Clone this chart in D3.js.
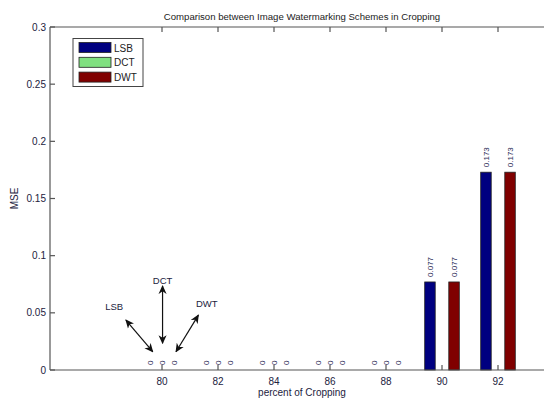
<!DOCTYPE html>
<html>
<head>
<meta charset="utf-8">
<script src="https://d3js.org/d3.v7.min.js"></script>
<style>
  body { margin: 0; background: #fff; }
  svg { display: block; font-family: "Liberation Sans", Arial, sans-serif; }
</style>
</head>
<body>
<svg id="chart"></svg>
<script>
// データ
const crops = [80, 82, 84, 86, 88, 90, 92];
const schemes = ["LSB", "DCT", "DWT"];
const lsb = [0, 0, 0, 0, 0, 0.077, 0.173];
const dct = [0, 0, 0, 0, 0, null, null];
const dwt = [0, 0, 0, 0, 0, 0.077, 0.173];
const yTicks = [0, 0.05, 0.1, 0.15, 0.2, 0.25, 0.3];
const colors = ["#000080", "#80e080", "#800000"];

// 矢印の注釈（データ座標）
const notes = [
  { label: "LSB", tx: 78.29, ty: 0.0554, x1: 78.71, y1: 0.0437, x2: 79.67, y2: 0.016 },
  { label: "DCT", tx: 80.02, ty: 0.0787, x1: 80.02, y1: 0.0735, x2: 80.02, y2: 0.0234 },
  { label: "DWT", tx: 81.6, ty: 0.0583, x1: 81.3, y1: 0.048, x2: 80.5, y2: 0.016 }
];

(function() {
  const width = 544;
  const height = 399;
  const left = 50, right = 554, top = 27, bottom = 370;

  const svg = d3.select("#chart")
      .attr("width", width)
      .attr("height", height);

  const x = d3.scaleLinear().domain([76, 94]).range([left, right]);
  const y = d3.scaleLinear().domain([0, 0.3]).range([bottom, top]);

  const series = [lsb, dct, dwt];
  const offset = [-0.43, 0, 0.43];
  const barW = 0.375;

  // 棒
  series.forEach(function(vals, s) {
    const g = svg.append("g");
    vals.forEach(function(v, i) {
      if (v === null) return;
      const cx = crops[i] + offset[s];
      if (v > 0) {
        g.append("rect")
          .attr("x", x(cx - barW / 2))
          .attr("y", y(v))
          .attr("width", x(cx + barW / 2) - x(cx - barW / 2))
          .attr("height", y(0) - y(v))
          .attr("fill", colors[s])
          .attr("stroke", "#222")
          .attr("stroke-width", 0.8);
      }
      // 値ラベル（回転）
      const px = x(cx) + 3;
      const py = y(v) - 5;
      g.append("text")
        .attr("transform", "translate(" + px + "," + py + ") rotate(-90)")
        .attr("font-size", 8)
        .attr("fill", "#2a2a55")
        .text(v === 0 ? "0" : String(v));
    });
  });

  // 軸
  const axisColor = "#555";
  const frame = svg.append("g").attr("stroke", axisColor).attr("stroke-width", 1.2).attr("fill", "none");
  frame.append("line").attr("x1", left).attr("x2", right).attr("y1", bottom).attr("y2", bottom);
  frame.append("line").attr("x1", left).attr("x2", right).attr("y1", top).attr("y2", top);
  frame.append("line").attr("x1", left).attr("x2", left).attr("y1", top).attr("y2", bottom);

  crops.forEach(function(c) {
    frame.append("line").attr("x1", x(c)).attr("x2", x(c)).attr("y1", bottom).attr("y2", bottom - 5);
    frame.append("line").attr("x1", x(c)).attr("x2", x(c)).attr("y1", top).attr("y2", top + 5);
  });
  yTicks.forEach(function(t) {
    frame.append("line").attr("x1", left).attr("x2", left + 5).attr("y1", y(t)).attr("y2", y(t));
  });

  svg.append("g").selectAll("text")
    .data(crops).enter().append("text")
    .attr("x", function(d) { return x(d); })
    .attr("y", bottom + 15)
    .attr("text-anchor", "middle")
    .attr("font-size", 10)
    .attr("fill", "#222240")
    .text(function(d) { return d; });

  svg.append("g").selectAll("text")
    .data(yTicks).enter().append("text")
    .attr("x", left - 4)
    .attr("y", function(d) { return y(d) + 3.5; })
    .attr("text-anchor", "end")
    .attr("font-size", 10)
    .attr("fill", "#222240")
    .text(function(d) { return d; });

  // タイトル・軸ラベル
  svg.append("text")
    .attr("x", (left + right) / 2).attr("y", 20)
    .attr("text-anchor", "middle").attr("font-size", 9.6).attr("fill", "#222")
    .text("Comparison between Image Watermarking Schemes in Cropping");
  svg.append("text")
    .attr("x", (left + right) / 2).attr("y", 396)
    .attr("text-anchor", "middle").attr("font-size", 10).attr("fill", "#222240")
    .text("percent of Cropping");
  svg.append("text")
    .attr("transform", "translate(18," + (top + bottom) / 2 + ") rotate(-90)")
    .attr("text-anchor", "middle").attr("font-size", 10).attr("fill", "#222240")
    .text("MSE");

  // 凡例
  const lg = svg.append("g");
  lg.append("rect").attr("x", 73).attr("y", 38.5).attr("width", 70).attr("height", 48)
    .attr("fill", "#fff").attr("stroke", "#444").attr("stroke-width", 1);
  schemes.forEach(function(name, i) {
    lg.append("rect").attr("x", 79).attr("y", 42.5 + i * 14.8).attr("width", 32).attr("height", 10)
      .attr("fill", colors[i]).attr("stroke", "#222").attr("stroke-width", 0.8);
    lg.append("text").attr("x", 114).attr("y", 51.5 + i * 14.8)
      .attr("font-size", 10).attr("fill", "#222").text(name);
  });

  // 矢印
  const defs = svg.append("defs");
  defs.append("marker").attr("id", "ah").attr("viewBox", "0 0 10 10")
    .attr("refX", 9).attr("refY", 5).attr("markerWidth", 9).attr("markerHeight", 9)
    .attr("markerUnits", "userSpaceOnUse").attr("orient", "auto-start-reverse")
    .append("path").attr("d", "M0,0.5 L10,5 L0,9.5 L3,5 Z").attr("fill", "#111");

  notes.forEach(function(n) {
    svg.append("line")
      .attr("x1", x(n.x1)).attr("y1", y(n.y1))
      .attr("x2", x(n.x2)).attr("y2", y(n.y2))
      .attr("stroke", "#111").attr("stroke-width", 1.2)
      .attr("marker-start", "url(#ah)").attr("marker-end", "url(#ah)");
    svg.append("text")
      .attr("x", x(n.tx)).attr("y", y(n.ty) + 3.5)
      .attr("text-anchor", "middle").attr("font-size", 9.5).attr("fill", "#222240")
      .text(n.label);
  });
})();
</script>
</body>
</html>
